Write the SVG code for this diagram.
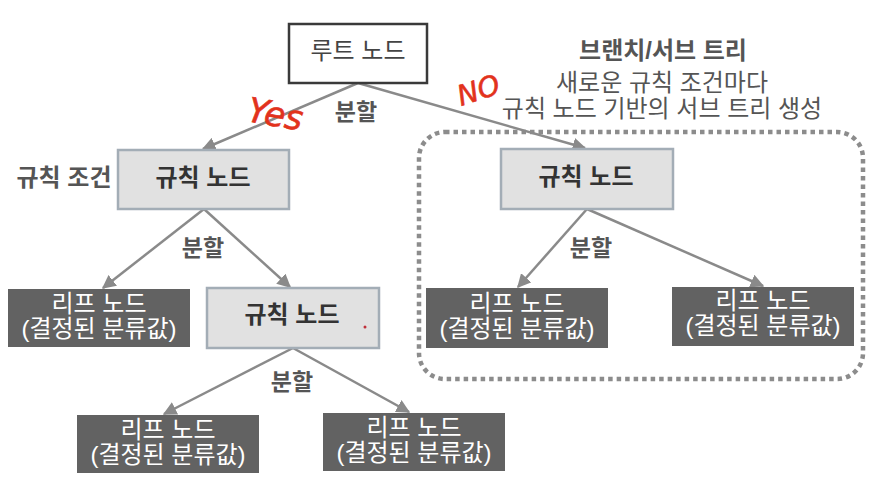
<svg xmlns="http://www.w3.org/2000/svg" width="870" height="486" viewBox="0 0 870 486">
  <defs>
    <marker id="arrow" viewBox="0 0 10 10" refX="9" refY="5" markerWidth="5.5" markerHeight="5.5" orient="auto" markerUnits="strokeWidth">
      <path d="M0,0 L10,5 L0,10 z" fill="#8a8a8a"/>
    </marker>
    <style>
      text { font-family: "Liberation Sans", "Noto Sans CJK KR", sans-serif; font-size: 24px; text-anchor: middle; }
      .root { fill: #ffffff; stroke: #3a3a3a; stroke-width: 2.5; }
      .rule { fill: #e1e1e1; stroke: #a3adb6; stroke-width: 2.5; }
      .leaf { fill: #626262; }
      .rule-t { fill: #333333; font-weight: bold; }
      .leaf-t { fill: #ffffff; }
      .lbl { fill: #555555; font-weight: bold; }
      .split { font-size: 23px; }
      .note { fill: #555555; }
      .edge { stroke: #8a8a8a; stroke-width: 2.5; fill: none; marker-end: url(#arrow); }
      .hand { fill: #e2321c; stroke: #e2321c; stroke-width: 0.6; font-family: "DejaVu Sans", sans-serif; font-style: italic; text-anchor: start; }
      .yes { font-size: 34px; }
      .no { font-size: 28px; }
    </style>
  </defs>

  <!-- subtree boundary -->
  <rect id="subtree-box" x="419" y="132" width="444" height="247" rx="26" fill="none" stroke="#8c8c8c" stroke-width="4.5" stroke-dasharray="4.5 4"/>

  <!-- connectors -->
  <g id="connectors">
    <line class="edge" x1="358" y1="83" x2="203" y2="149"/>
    <line class="edge" x1="358" y1="83" x2="585" y2="148"/>
    <line class="edge" x1="204" y1="209" x2="103" y2="288"/>
    <line class="edge" x1="204" y1="209" x2="290" y2="287"/>
    <line class="edge" x1="293" y1="348" x2="164" y2="414"/>
    <line class="edge" x1="293" y1="348" x2="409" y2="412"/>
    <line class="edge" x1="587" y1="209" x2="518" y2="287"/>
    <line class="edge" x1="587" y1="209" x2="763" y2="286"/>
  </g>

  <!-- edge labels -->
  <g id="labels">
    <text class="lbl split" x="356" y="120">분할</text>
    <text class="lbl split" x="203" y="256">분할</text>
    <text class="lbl split" x="591" y="256">분할</text>
    <text class="lbl split" x="292" y="390">분할</text>
    <text class="lbl" x="64" y="186">규칙 조건</text>
  </g>

  <!-- subtree caption -->
  <g id="caption">
    <text class="lbl" x="663" y="59">브랜치/서브 트리</text>
    <text class="note" x="662" y="91">새로운 규칙 조건마다</text>
    <text class="note" x="662" y="117">규칙 노드 기반의 서브 트리 생성</text>
  </g>

  <g id="root">
    <rect class="root" x="289" y="24" width="138" height="59"/>
    <text x="358" y="59" fill="#444444">루트 노드</text>
  </g>

  <g id="rule-left">
    <rect class="rule" x="118" y="150" width="171" height="59"/>
    <text class="rule-t" x="203" y="186">규칙 노드</text>
  </g>

  <g id="rule-right">
    <rect class="rule" x="501" y="149" width="172" height="60"/>
    <text class="rule-t" x="586" y="185">규칙 노드</text>
  </g>

  <g id="rule-mid">
    <rect class="rule" x="207" y="288" width="172" height="60"/>
    <text class="rule-t" x="292" y="323">규칙 노드</text>
    <circle cx="365" cy="327" r="1.5" fill="#c0303a"/>
  </g>

  <g id="leaf-1">
    <rect class="leaf" x="8" y="289" width="182" height="58"/>
    <text class="leaf-t" x="99" y="312">리프 노드</text>
    <text class="leaf-t" x="99" y="337">(결정된 분류값)</text>
  </g>

  <g id="leaf-2">
    <rect class="leaf" x="77" y="415" width="182" height="58"/>
    <text class="leaf-t" x="168" y="438">리프 노드</text>
    <text class="leaf-t" x="168" y="463">(결정된 분류값)</text>
  </g>

  <g id="leaf-3">
    <rect class="leaf" x="323" y="413" width="182" height="58"/>
    <text class="leaf-t" x="414" y="436">리프 노드</text>
    <text class="leaf-t" x="414" y="461">(결정된 분류값)</text>
  </g>

  <g id="leaf-4">
    <rect class="leaf" x="426" y="288" width="182" height="60"/>
    <text class="leaf-t" x="517" y="312">리프 노드</text>
    <text class="leaf-t" x="517" y="337">(결정된 분류값)</text>
  </g>

  <g id="leaf-5">
    <rect class="leaf" x="672" y="287" width="182" height="59"/>
    <text class="leaf-t" x="763" y="309">리프 노드</text>
    <text class="leaf-t" x="763" y="334">(결정된 분류값)</text>
  </g>

  <!-- handwritten annotations -->
  <g id="annotations">
    <text class="hand yes" x="246" y="121" transform="rotate(10 246 121)">Yes</text>
    <text class="hand no" x="461" y="106" transform="rotate(-18 461 106)">NO</text>
  </g>
</svg>
